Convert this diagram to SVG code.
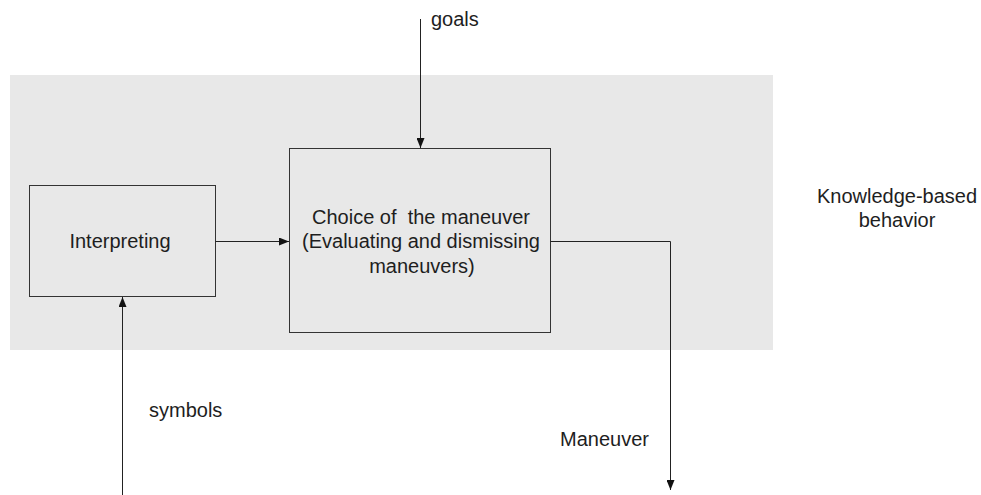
<svg xmlns="http://www.w3.org/2000/svg" width="981" height="495" viewBox="0 0 981 495">
  <defs>
    <style>
      .lbl { font-family: "Liberation Sans", Arial, sans-serif; font-size: 20px; fill: #1e1e1e; }
      .mid { text-anchor: middle; }
      .box { fill: none; stroke: #333333; stroke-width: 1; }
      .wire { fill: none; stroke: #222222; stroke-width: 1; }
    </style>
    <marker id="arrow" markerUnits="userSpaceOnUse" markerWidth="10" markerHeight="8" refX="10" refY="4" orient="auto">
      <path d="M0,0 L10,4 L0,8 z" fill="#111111"/>
    </marker>
  </defs>

  <rect width="981" height="495" fill="#ffffff"/>

  <!-- shaded band: knowledge-based level -->
  <g id="band">
    <rect x="10" y="75" width="763" height="275" fill="#e8e8e8"/>
    <text class="lbl mid" x="897" y="203">Knowledge-based</text>
    <text class="lbl mid" x="897" y="227">behavior</text>
  </g>

  <g id="interpreting">
    <rect class="box" x="29.5" y="185.5" width="186" height="111"/>
    <text class="lbl mid" x="120" y="248">Interpreting</text>
  </g>

  <g id="choice">
    <rect class="box" x="289.5" y="148.5" width="261" height="184"/>
    <text class="lbl mid" x="421" y="224" xml:space="preserve">Choice of  the maneuver</text>
    <text class="lbl mid" x="421" y="248">(Evaluating and dismissing</text>
    <text class="lbl mid" x="422" y="272.5">maneuvers)</text>
  </g>

  <g id="connectors">
    <line class="wire" x1="420.5" y1="19" x2="420.5" y2="148" marker-end="url(#arrow)"/>
    <line class="wire" x1="215.5" y1="241.5" x2="289" y2="241.5" marker-end="url(#arrow)"/>
    <polyline class="wire" points="550.5,241.5 670.5,241.5 670.5,490" marker-end="url(#arrow)"/>
    <line class="wire" x1="122.5" y1="495" x2="122.5" y2="297" marker-end="url(#arrow)"/>
  </g>

  <g id="labels">
    <text class="lbl" x="431" y="25.5">goals</text>
    <text class="lbl" x="149" y="417">symbols</text>
    <text class="lbl" x="560" y="446">Maneuver</text>
  </g>
</svg>
